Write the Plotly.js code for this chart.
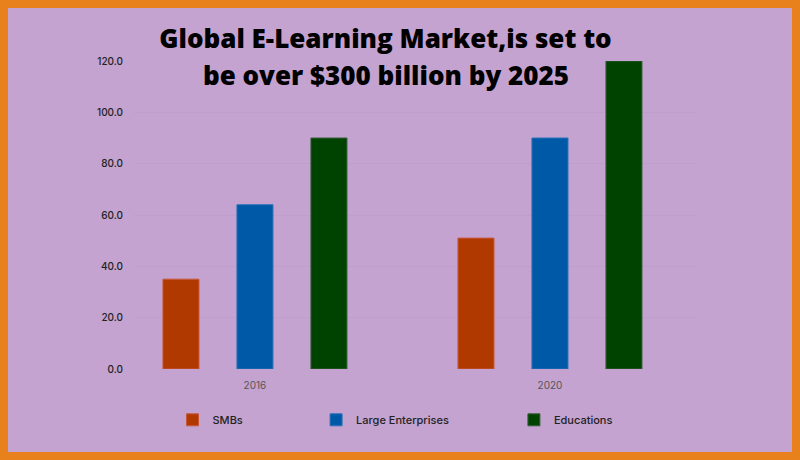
<!DOCTYPE html>
<html>
<head>
<meta charset="utf-8">
<script src="https://cdn.plot.ly/plotly-3.0.1.min.js"></script>
<style>
  html, body { margin: 0; padding: 0; background: #e8801b; }
  #wrap { width: 800px; height: 460px; box-sizing: border-box; padding: 8px; background: #e8801b; }
  #chart { width: 784px; height: 444px; }
</style>
</head>
<body>
<div id="wrap"><div id="chart"></div></div>
<script>
const categories = ['2016', '2020'];
const seriesNames = ['SMBs', 'Large Enterprises', 'Educations'];
const smbs = [35, 51];
const largeEnterprises = [64, 90];
const educations = [90, 120];
const yTickValues = [0, 20, 40, 60, 80, 100, 120];
const titleLine1 = 'Global E-Learning Market,is set to';
const titleLine2 = 'be over $300 billion by 2025';

const colors = ['#b03900', '#0059a6', '#004300'];
const outlines = ['#c8583a', '#2a72b8', '#3a5e3a'];
const seriesValues = [smbs, largeEnterprises, educations];
const legendIds = ['legend', 'legend2', 'legend3'];

const traces = seriesNames.map((name, i) => ({
  type: 'bar',
  name: name,
  x: categories,
  y: seriesValues[i],
  marker: { color: colors[i], line: { color: outlines[i], width: 1 } },
  legend: legendIds[i],
  hoverinfo: 'skip'
}));

const legendFont = { family: 'Inter, Roboto, sans-serif', size: 11, color: '#222', weight: 500 };
function mkLegend(x) {
  return {
    orientation: 'h', x: x, xanchor: 'left', y: -0.165, yanchor: 'middle',
    bgcolor: 'rgba(0,0,0,0)', borderwidth: 0, font: legendFont
  };
}
const titleFont = { family: 'Open Sans, sans-serif', size: 26, color: '#000', weight: 800 };

const layout = {
  width: 784, height: 444,
  paper_bgcolor: '#c4a3d0',
  plot_bgcolor: '#c4a3d0',
  margin: { l: 126, r: 96, t: 53, b: 83 },
  barmode: 'group',
  bargap: 0.2475,
  bargroupgap: 0.513,
  title: {
    text: titleLine1,
    x: 377.5 / 784, xref: 'container', xanchor: 'center',
    y: 1 - 22 / 444, yref: 'container', yanchor: 'top',
    font: titleFont
  },
  annotations: [{
    text: titleLine2, xref: 'paper', yref: 'paper',
    x: (377.5 - 126) / 562, xanchor: 'center',
    y: 1 + (53 - 67) / 308.3, yanchor: 'middle', showarrow: false,
    font: titleFont
  }],
  xaxis: {
    type: 'category',
    range: [-0.41, 1.495],
    showgrid: false, zeroline: false, showline: false,
    ticks: '', ticklabelstandoff: 9,
    tickfont: { family: 'Inter, Roboto, sans-serif', size: 10, color: '#555' }
  },
  yaxis: {
    range: [0, 120],
    tickvals: yTickValues,
    tickformat: '.1f',
    showgrid: true, gridcolor: 'rgba(90,40,110,0.04)', gridwidth: 1,
    zeroline: false, showline: false, ticks: '',
    ticklabelstandoff: 10,
    tickfont: { family: 'Inter, Roboto, sans-serif', size: 10, color: '#222', weight: 500 }
  },
  legend: mkLegend(0.0685),
  legend2: mkLegend(0.324),
  legend3: mkLegend(0.676),
  showlegend: true
};

Plotly.newPlot('chart', traces, layout, { displayModeBar: false, staticPlot: true });
</script>
</body>
</html>
